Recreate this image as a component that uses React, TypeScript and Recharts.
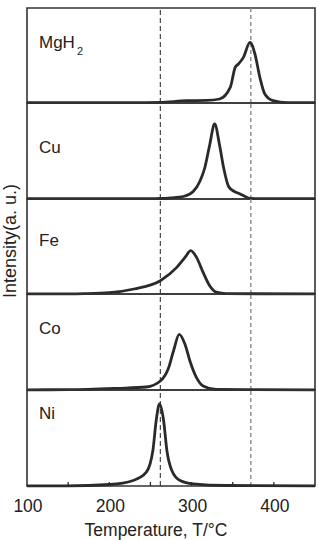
import { LineChart, Line, XAxis, YAxis, ReferenceLine, ReferenceArea } from 'recharts'

// peak temperatures (°C) and heights (px above panel baseline)
const mgTemps = [100, 230, 262, 294, 318, 334, 347, 353, 357, 363, 371, 377, 383, 389, 399, 416, 450]
const mgVals = [0.3, 0.3, 0.6, 2.3, 2.6, 4, 15.6, 35.6, 39, 45.6, 60.6, 49, 25.6, 9, 2.3, 0.3, 0.3]

const cuTemps = [100, 200, 250, 262, 275, 290, 302, 310, 316, 322, 328, 334, 339, 345, 351, 359, 365, 371, 400, 450]
const cuVals = [0.3, 0.3, 0.3, 0.5, 1.2, 2.5, 7.5, 17.5, 31, 54, 75, 54, 31, 12.5, 8, 5, 2.5, 0.5, 0.3, 0.3]

const feTemps = [100, 150, 170, 200, 230, 262, 282, 292, 299, 306, 314, 322, 330, 342, 450]
const feVals = [0.2, 0.2, 0.4, 1.3, 5, 13.3, 26.6, 36.6, 43.3, 36.6, 21.6, 8.3, 1.8, 0.3, 0.2]

const coTemps = [100, 150, 210, 245, 262, 272, 278, 285, 292, 298, 306, 314, 330, 450]
const coVals = [0.2, 0.3, 1.7, 3, 9, 22, 39, 55.7, 45.7, 29, 12.3, 4, 0.5, 0.2]

const niTemps = [100, 148, 201, 229, 245, 253, 257, 261, 266, 270, 276, 286, 302, 342, 450]
const niVals = [0.2, 0.2, 1.5, 5.5, 13.8, 35.5, 65.5, 82, 65.5, 35.5, 15.5, 5.5, 2.2, 0.5, 0.2]

const xTicks = [100, 150, 200, 250, 300, 350, 400, 450]
const xLabels = [100, 200, 300, 400]
const dashLeft = 262
const dashRight = 372

const FONT = '"Liberation Sans", Arial, Helvetica, sans-serif'
const INK = '#2a2a2a'

const zip = (t: number[], v: number[]) => t.map((x, i) => ({ t: x, v: v[i] }))

const panels = [
  { name: 'MgH', sub: '2', data: zip(mgTemps, mgVals), top: 8, h: 95, base: 48 },
  { name: 'Cu', sub: '', data: zip(cuTemps, cuVals), top: 103, h: 96, base: 153 },
  { name: 'Fe', sub: '', data: zip(feTemps, feVals), top: 199, h: 95, base: 246 },
  { name: 'Co', sub: '', data: zip(coTemps, coVals), top: 294, h: 96, base: 334 },
  { name: 'Ni', sub: '', data: zip(niTemps, niVals), top: 390, h: 96, base: 419 },
]

function BottomTick(props: any) {
  const { x, y, payload } = props
  const v = payload.value
  return (
    <g>
      {v > 100 && v < 450 && <line x1={x} x2={x} y1={y} y2={y - 4} stroke={INK} strokeWidth={1.3} />}
      {xLabels.includes(v) && (
        <text x={x + 1} y={y + 26} textAnchor="middle" fontSize={17.5} fontFamily={FONT} fill="#222">
          {v}
        </text>
      )}
    </g>
  )
}

export default function App() {
  return (
    <div style={{ position: 'absolute', left: 0, top: 0, width: 318, height: 540, background: '#fff', fontFamily: FONT, color: '#222' }}>
      {panels.map((p, i) => {
        const last = i === panels.length - 1
        const chartH = last ? 540 - (p.top - 3) : p.h + 6
        return (
          <div key={p.name} style={{ position: 'absolute', left: 0, top: p.top - 3 }}>
            <LineChart width={318} height={chartH} data={p.data} margin={{ top: 3, right: 3, bottom: last ? 0 : 3, left: 27 }}>
              <XAxis
                dataKey="t"
                type="number"
                domain={[100, 450]}
                ticks={xTicks}
                interval={0}
                hide={!last}
                height={54}
                axisLine={false}
                tickLine={false}
                tickSize={0}
                tickMargin={0}
                tick={<BottomTick />}
              />
              <YAxis hide type="number" domain={[0, p.h]} />
              <ReferenceLine x={dashLeft} stroke="#222" strokeWidth={1} strokeDasharray="5 3" />
              <ReferenceLine x={dashRight} stroke="#8a8a8a" strokeWidth={1.4} strokeDasharray="4 3" />
              <Line type="monotone" dataKey="v" stroke={INK} strokeWidth={2.8} dot={false} isAnimationActive={false} />
              <ReferenceArea x1={100} x2={450} y1={0} y2={p.h} fill="none" fillOpacity={0} stroke="#333" strokeWidth={1.6} />
            </LineChart>
          </div>
        )
      })}

      {panels.map((p) => (
        <div key={'l' + p.name} style={{ position: 'absolute', left: 39, top: p.base - 14.4, fontSize: 17, lineHeight: '17px', whiteSpace: 'nowrap' }}>
          {p.name}
          {p.sub && <span style={{ fontSize: 11, position: 'relative', top: 7, marginLeft: 2 }}>{p.sub}</span>}
        </div>
      ))}

      <div style={{ position: 'absolute', left: 9.5 - 100, top: 241 - 9, width: 200, textAlign: 'center', fontSize: 18, lineHeight: '18px', transform: 'rotate(-90deg)', whiteSpace: 'nowrap' }}>
        Intensity(a. u.)
      </div>

      <div style={{ position: 'absolute', left: 156 - 100, top: 536.5 - 14.8, width: 200, textAlign: 'center', fontSize: 17.5, lineHeight: '17.5px', whiteSpace: 'nowrap' }}>
        Temperature, T/°C
      </div>
    </div>
  )
}
